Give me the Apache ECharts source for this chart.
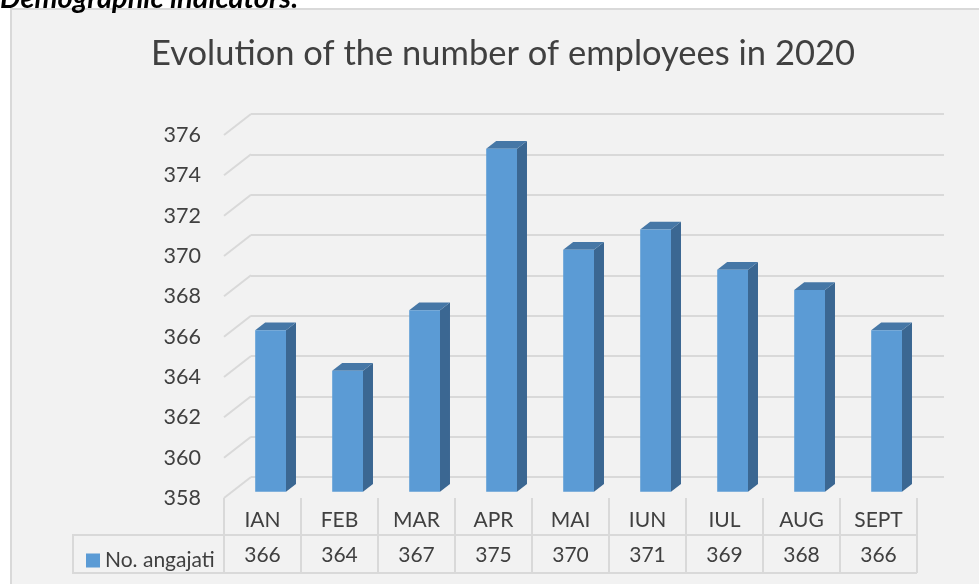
<!DOCTYPE html>
<html>
<head>
<meta charset="utf-8">
<script src="https://cdn.jsdelivr.net/npm/echarts@6/dist/echarts.min.js"></script>
<style>
html,body{margin:0;padding:0;background:#fff;}
#chart{width:979px;height:584px;}
</style>
</head>
<body>
<div id="chart"></div>
<script>
// ---- data ----
var categories = ['IAN', 'FEB', 'MAR', 'APR', 'MAI', 'IUN', 'IUL', 'AUG', 'SEPT'];
var employees = [366, 364, 367, 375, 370, 371, 369, 368, 366];
var seriesName = 'No. angajati';
var yTicks = [358, 360, 362, 364, 366, 368, 370, 372, 374, 376];
var titleText = 'Evolution of the number of employees in 2020';
var headerText = 'Demographic indicators:';

// ---- style constants ----
var FONT = 'Lato, "Open Sans", sans-serif';
var TXT = '#404040';
var LINE = '#d9d9d9';
var DEPTH = [27, -21];        // full depth vector of the 3D box
var BAR_FRONT = 0.30;         // depth fraction of bar front face
var BAR_DEPTH = 0.37;         // depth fraction occupied by bar
var BAR_W = 0.40;             // fraction of category band

var yMin = yTicks[0], yMax = yTicks[yTicks.length - 1], yStep = yTicks[1] - yTicks[0];

var chart = echarts.init(document.getElementById('chart'), null, {renderer: 'canvas'});

function renderBar(params, api) {
  var i = api.value(0), v = api.value(1);
  var top = api.coord([i, v]);
  var base = api.coord([i, yMin]);
  var bw = api.size([1, 0])[0] * BAR_W;
  var fx = DEPTH[0] * BAR_FRONT, fy = DEPTH[1] * BAR_FRONT;
  var sx = DEPTH[0] * BAR_DEPTH, sy = DEPTH[1] * BAR_DEPTH;
  var x0 = top[0] - bw / 2 + fx, x1 = x0 + bw;
  var yt = top[1] + fy, yb = base[1] + fy;
  return {
    type: 'group',
    children: [
      {type: 'polygon', shape: {points: [[x1, yt], [x1 + sx, yt + sy], [x1 + sx, yb + sy], [x1, yb]]},
        style: {fill: '#3b6792'}},
      {type: 'polygon', shape: {points: [[x0, yt], [x0 + sx, yt + sy], [x1 + sx, yt + sy], [x1, yt]]},
        style: {fill: '#4677a6'}},
      {type: 'rect', shape: {x: x0, y: yt, width: bw, height: yb - yt},
        style: {fill: '#5b9bd5'}}
    ]
  };
}

function renderSlant(params, api) {
  var v = api.value(1);
  var y = api.coord([0, v])[1];
  var x = params.coordSys.x;
  return {
    type: 'line',
    shape: {x1: x, y1: y, x2: x + DEPTH[0], y2: y + DEPTH[1]},
    style: {stroke: LINE, lineWidth: 2}
  };
}

function renderValue(params, api) {
  var i = api.value(0), v = api.value(1);
  var p = api.coord([i, yMin]);
  return {
    type: 'text',
    x: p[0], y: p[1] + 57,
    style: {text: String(v), fill: TXT, font: '21px ' + FONT, align: 'center', verticalAlign: 'middle'}
  };
}

var barData = employees.map(function (v, i) { return [i, v]; });
var slantData = yTicks.map(function (v) { return [0, v]; });

var option = {
  backgroundColor: '#ffffff',
  animation: false,
  title: {
    text: titleText,
    left: 498, top: 31, textAlign: 'center',
    textStyle: {fontFamily: FONT, fontSize: 34.5, fontWeight: 'normal', color: TXT}
  },
  legend: {
    data: [{name: seriesName, icon: 'rect'}],
    left: 81, top: 545, itemWidth: 14, itemHeight: 14, itemGap: 5,
    textStyle: {fontFamily: FONT, fontSize: 21, color: TXT},
    selectedMode: false
  },
  graphic: [
    {type: 'rect', z: -100, silent: true,
      shape: {x: 11, y: 9, width: 1000, height: 600},
      style: {fill: '#f2f2f2', stroke: LINE, lineWidth: 2}},
    {type: 'text', silent: true, x: 0, y: 13,
      style: {text: headerText, font: 'italic bold 29px ' + FONT, fill: '#000', verticalAlign: 'bottom'}},
    {type: 'line', silent: true, shape: {x1: 73, y1: 535, x2: 917, y2: 535}, style: {stroke: LINE, lineWidth: 2}},
    {type: 'line', silent: true, shape: {x1: 73, y1: 573, x2: 917, y2: 573}, style: {stroke: LINE, lineWidth: 2}},
    {type: 'line', silent: true, shape: {x1: 73, y1: 534, x2: 73, y2: 574}, style: {stroke: LINE, lineWidth: 2}}
  ],
  grid: [
    {left: 224, right: 62, top: 135, bottom: 86},   // front plane
    {left: 251, right: 35, top: 114, bottom: 107}   // back wall
  ],
  xAxis: [
    {type: 'category', gridIndex: 0, data: categories, boundaryGap: true,
      axisLine: {show: false},
      axisTick: {show: true, interval: 0, length: 75, lineStyle: {color: LINE, width: 2}},
      axisLabel: {interval: 0, margin: 12, fontFamily: FONT, fontSize: 21, color: TXT},
      splitLine: {show: false}},
    {type: 'category', gridIndex: 1, data: categories, show: false}
  ],
  yAxis: [
    {type: 'value', gridIndex: 0, min: yMin, max: yMax, interval: yStep,
      axisLine: {show: false}, axisTick: {show: false}, splitLine: {show: false},
      axisLabel: {margin: 23, fontFamily: FONT, fontSize: 21.5, color: TXT}},
    {type: 'value', gridIndex: 1, min: yMin, max: yMax, interval: yStep,
      axisLine: {show: false}, axisTick: {show: false}, axisLabel: {show: false},
      splitLine: {show: true, lineStyle: {color: LINE, width: 2}}}
  ],
  series: [
    {type: 'custom', name: 'slant', xAxisIndex: 0, yAxisIndex: 0, renderItem: renderSlant,
      data: slantData, encode: {x: 0, y: 1}, silent: true, z: 1},
    {type: 'custom', name: seriesName, xAxisIndex: 0, yAxisIndex: 0, renderItem: renderBar,
      data: barData, encode: {x: 0, y: 1}, itemStyle: {color: '#5b9bd5'}, z: 3},
    {type: 'custom', name: 'values', xAxisIndex: 0, yAxisIndex: 0, renderItem: renderValue,
      data: barData, encode: {x: 0, y: 1}, silent: true, z: 3}
  ]
};
chart.setOption(option);
</script>
</body>
</html>
